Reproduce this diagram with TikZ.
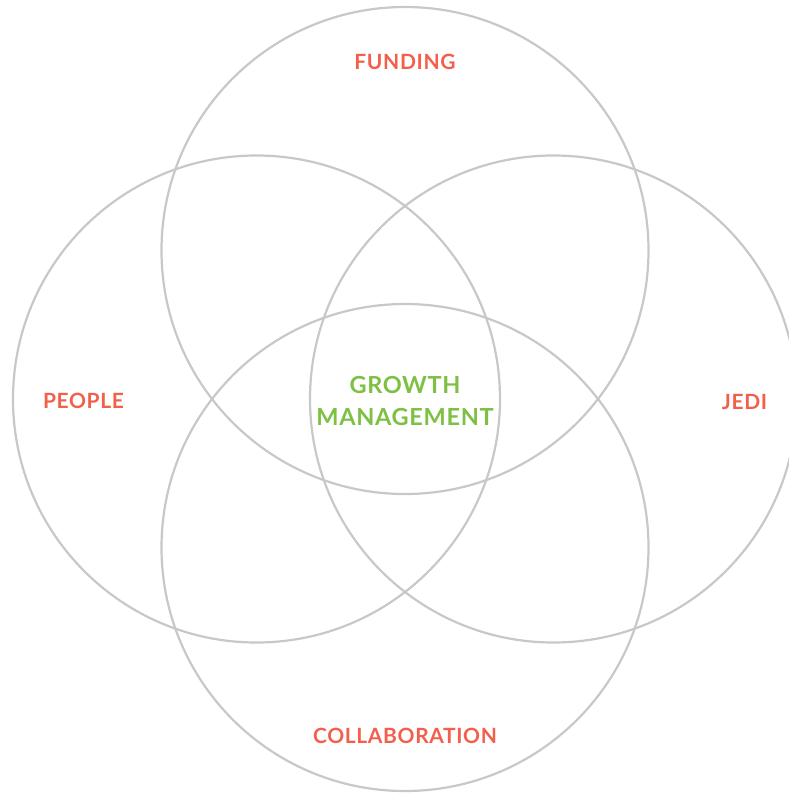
\documentclass[tikz,border=0pt]{standalone}
\usepackage{fontspec}
\setmainfont{Lato}[LetterSpace=3]
\definecolor{ringgray}{HTML}{C8C8C8}
\definecolor{labelred}{HTML}{F2604B}
\definecolor{coregreen}{HTML}{7DC043}
\begin{document}
\begin{tikzpicture}[x=1pt,y=-1pt,
  ring/.style={draw=ringgray,line width=2.2pt},
  area/.style={anchor=base,inner sep=0pt,text=labelred,font=\bfseries\fontsize{21}{24}\selectfont},
  core/.style={anchor=base,inner sep=0pt,text=coregreen,font=\bfseries\fontsize{23.5}{28}\selectfont}]
  \useasboundingbox (0,0) rectangle (788,793);
  % four overlapping rings
  \draw[ring] (405,250.5) circle (243.5);
  \draw[ring] (256.5,399) circle (243.5);
  \draw[ring] (553.5,399) circle (243.5);
  \draw[ring] (405,547.5) circle (243.5);
  % outer labels
  \node[area] (funding) at (405,69) {FUNDING};
  \node[area] (people) at (83.5,408) {PEOPLE};
  \node[area] (jedi) at (744.5,409) {JEDI};
  \node[area] (collab) at (405,743) {COLLABORATION};
  % centre label
  \node[core] (growth) at (405,393) {GROWTH};
  \node[core] (mgmt) at (405,425) {MANAGEMENT};
\end{tikzpicture}
\end{document}
